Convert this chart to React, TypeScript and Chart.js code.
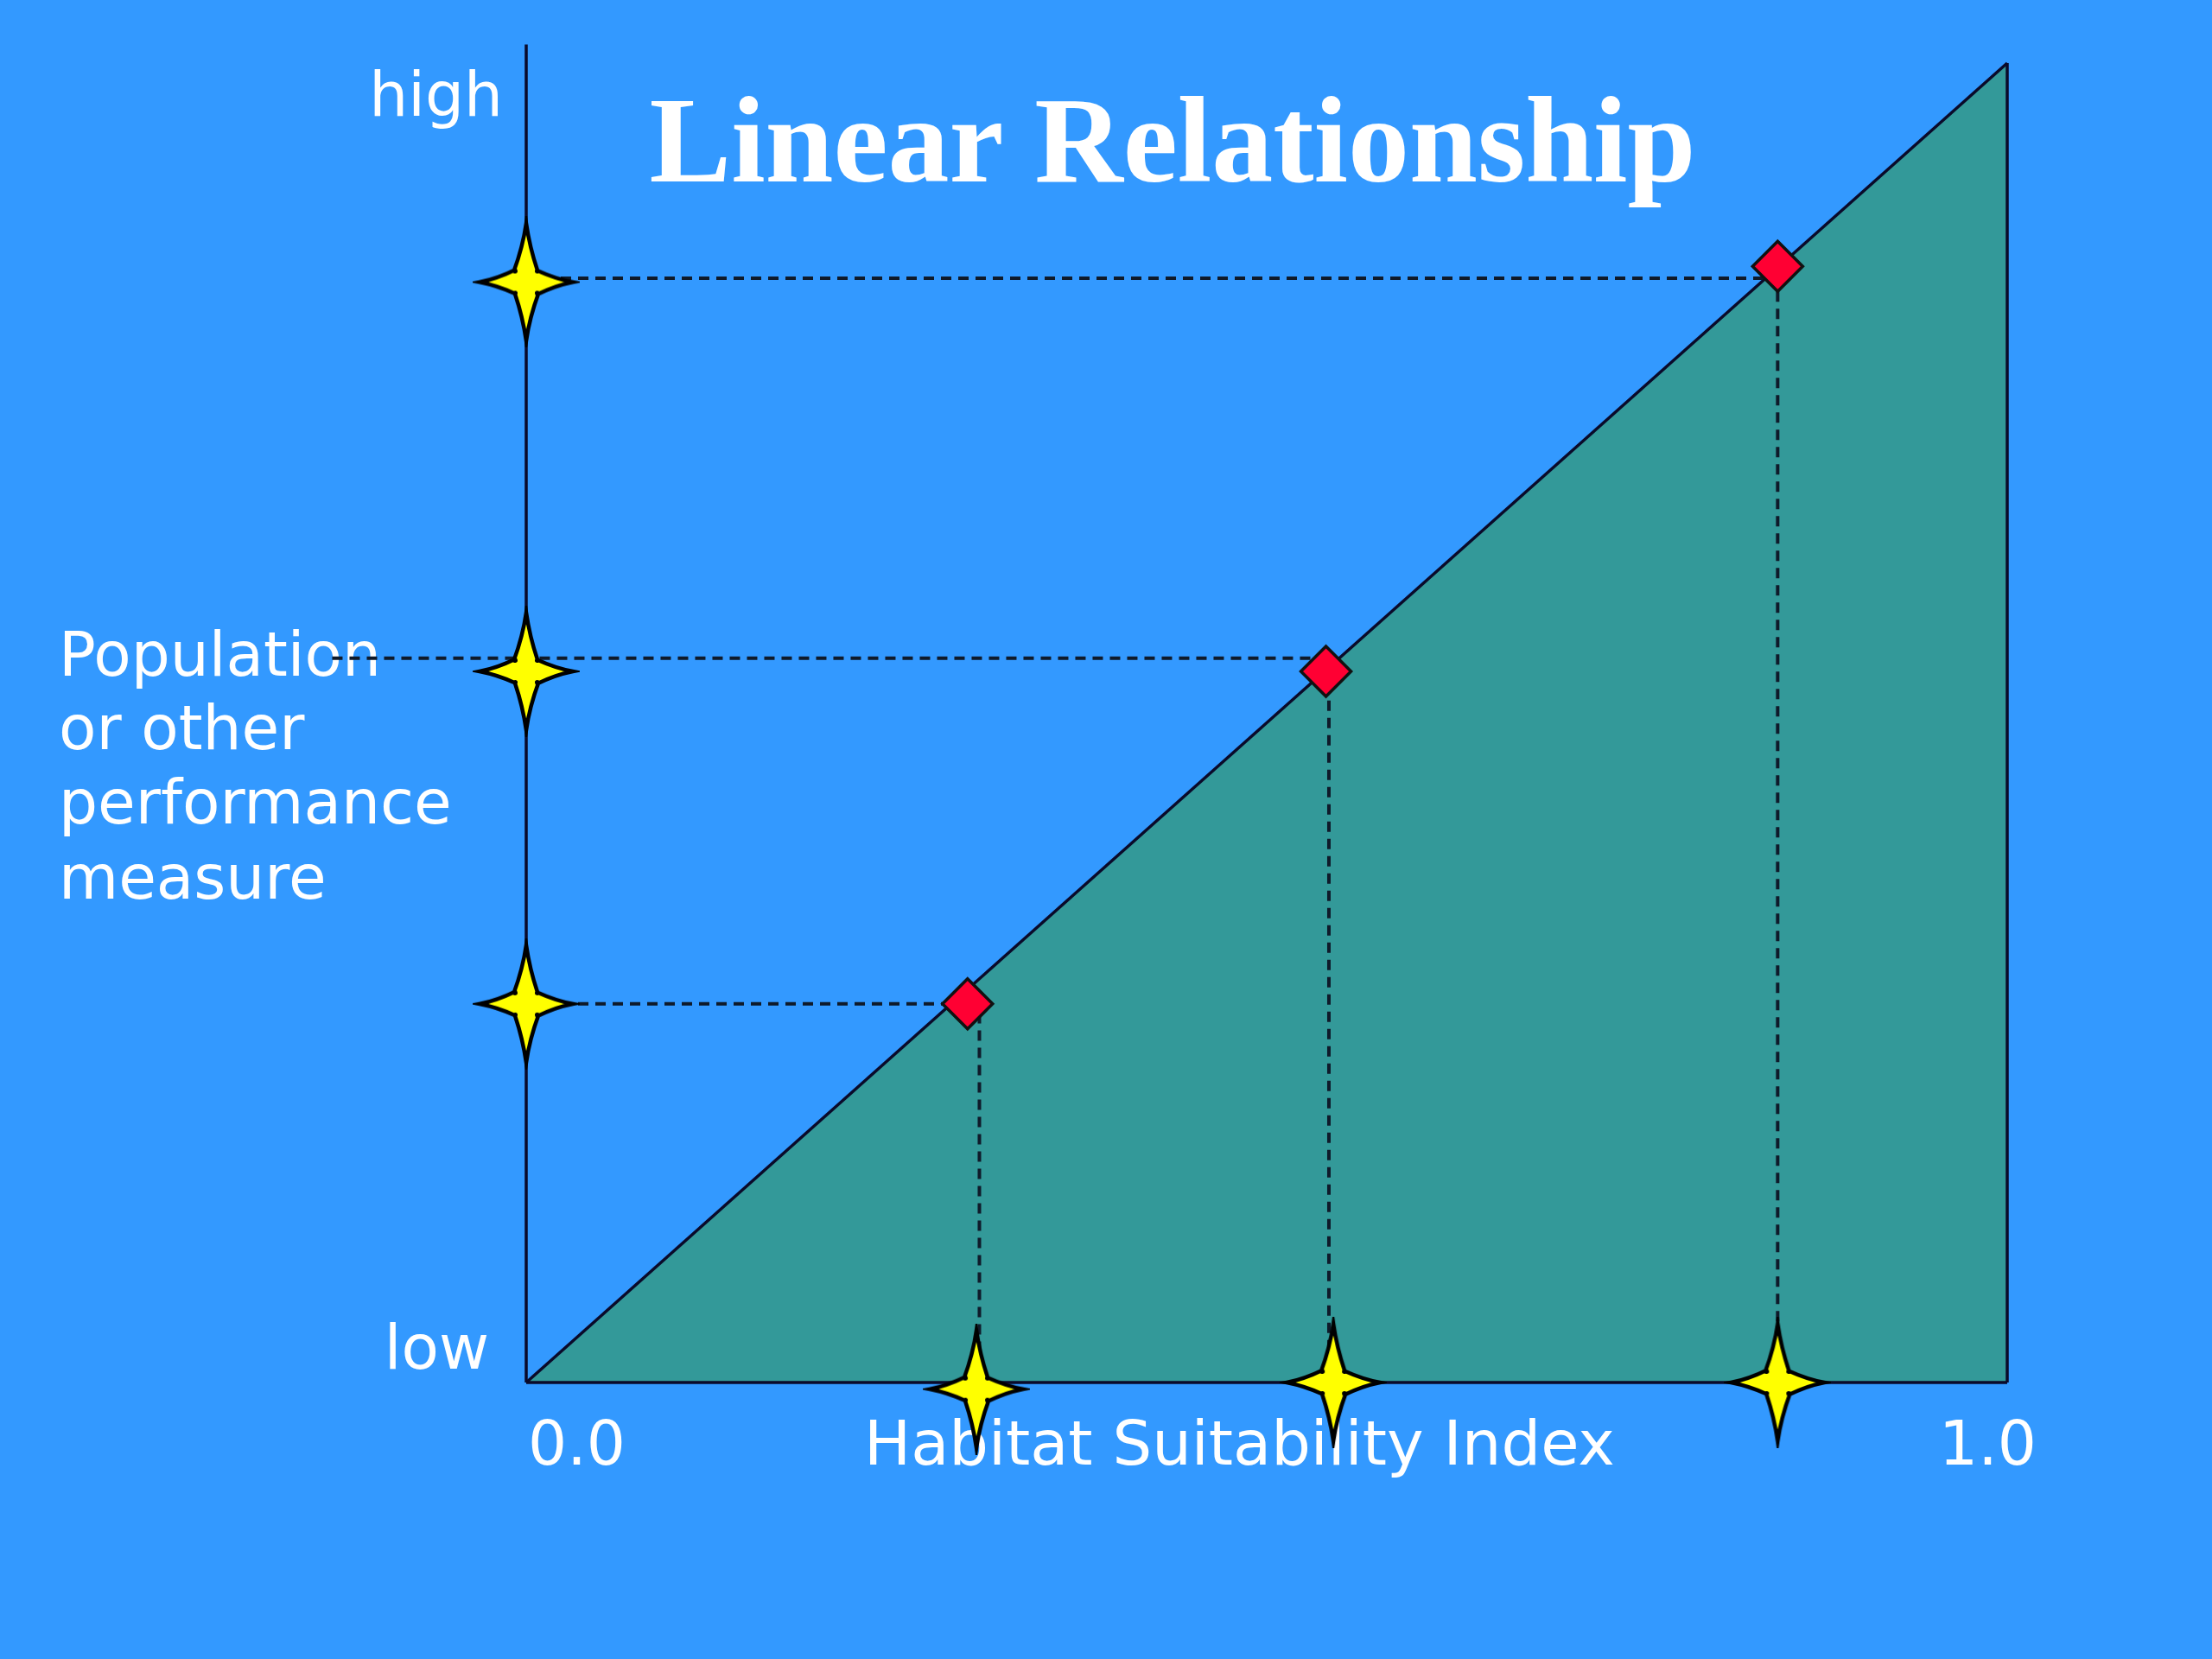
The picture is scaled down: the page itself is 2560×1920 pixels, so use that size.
import React, { useEffect, useRef } from "react";
import { Chart, registerables } from "chart.js";

Chart.register(...registerables);

// ---- values (x: Habitat Suitability Index 0..1, y: performance low..high as 0..1)
const RELATION_X = [0, 1];
const RELATION_Y = [0, 1];
const Y_AXIS_TOP = 1.014;
const DIAMOND_X = [0.298, 0.54, 0.845];
const DIAMOND_Y = [0.287, 0.539, 0.846];
const H_GUIDE_Y = [0.287, 0.549, 0.837];
const H_GUIDE_START = [0, -0.131, 0];
const H_GUIDE_END = [0.29, 0.53, 0.835];
const V_GUIDE_X = [0.306, 0.542, 0.845];
const V_GUIDE_TOP = [0.28, 0.53, 0.84];
const Y_STAR_Y = [0.287, 0.539, 0.834];
const X_STAR_X = [0.304, 0.545, 0.845];
const X_STAR_Y = [-0.005, 0, 0];

const TITLE = "Linear Relationship";
const Y_HIGH = "high";
const Y_LOW = "low";
const X_MIN_LABEL = "0.0";
const X_MAX_LABEL = "1.0";
const X_TITLE = "Habitat Suitability Index";
const Y_TITLE = ["Population", "or other", "performance", "measure"];

// ---- styles
const BG = "#3399FF";
const TEAL = "#339999";
const LINE = "#0a0a2a";
const DASH = "#0f1a2a";
const RED = "#FF0033";
const YELLOW = "#FFFF00";
const SANS = '"DejaVu Sans", Verdana, sans-serif';

function makeStar(): HTMLCanvasElement {
  const w = 54;
  const h = 68;
  const r = 13;
  const pull = 2.5;
  const pad = 8;
  const cv = document.createElement("canvas");
  cv.width = 2 * w + 2 * pad;
  cv.height = 2 * h + 2 * pad;
  const ctx = cv.getContext("2d")!;
  const cx = cv.width / 2;
  const cy = cv.height / 2;
  const tips: [number, number][] = [
    [0, -h],
    [w, 0],
    [0, h],
    [-w, 0],
  ];
  ctx.beginPath();
  ctx.moveTo(cx + tips[0][0], cy + tips[0][1]);
  for (let i = 0; i < 4; i++) {
    const a = tips[i];
    const b = tips[(i + 1) % 4];
    const sx = Math.sign(a[0] + b[0]);
    const sy = Math.sign(a[1] + b[1]);
    const ix = sx * r;
    const iy = sy * r;
    const m1x = (a[0] + ix) / 2;
    const m1y = (a[1] + iy) / 2;
    const c1 = a[0] === 0 ? [m1x - sx * pull, m1y] : [m1x, m1y - sy * pull];
    const m2x = (b[0] + ix) / 2;
    const m2y = (b[1] + iy) / 2;
    const c2 = b[0] === 0 ? [m2x - sx * pull, m2y] : [m2x, m2y - sy * pull];
    // smooth the inner corner slightly with a small cubic through it
    ctx.quadraticCurveTo(cx + c1[0], cy + c1[1], cx + ix * 1.1 - sx * 1.5, cy + iy * 1.1 + (sy < 0 ? 2 : -2) * 0 - sy * 0);
    ctx.quadraticCurveTo(cx + ix * 0.85, cy + iy * 0.85, cx + ix * 1.1 - 0, cy + iy * 1.1 - sy * 1.5);
    ctx.quadraticCurveTo(cx + c2[0], cy + c2[1], cx + b[0], cy + b[1]);
  }
  ctx.closePath();
  ctx.fillStyle = YELLOW;
  ctx.fill();
  ctx.lineWidth = 4.5;
  ctx.lineJoin = "miter";
  ctx.miterLimit = 20;
  ctx.strokeStyle = "#000";
  ctx.stroke();
  return cv;
}

const textPlugin = {
  id: "slideText",
  beforeDraw(chart: any) {
    const ctx = chart.ctx;
    ctx.save();
    ctx.fillStyle = BG;
    ctx.fillRect(0, 0, chart.width, chart.height);
    ctx.restore();
  },
  beforeDatasetsDraw(chart: any) {
    const ctx = chart.ctx;
    const a = chart.chartArea;
    ctx.save();
    ctx.fillStyle = "#ffffff";
    ctx.textBaseline = "alphabetic";

    ctx.font = `bold 142px "Liberation Serif", "Times New Roman", serif`;
    ctx.textAlign = "center";
    ctx.fillText(TITLE, 1357, 210);

    ctx.font = `71px ${SANS}`;
    ctx.textAlign = "right";
    ctx.fillText(Y_HIGH, a.left - 27, 134);
    ctx.fillText(Y_LOW, a.left - 43, 1584);

    ctx.textAlign = "left";
    ctx.fillText(X_MIN_LABEL, a.left + 2, 1695);
    ctx.textAlign = "right";
    ctx.fillText(X_MAX_LABEL, 2357, 1695);

    ctx.textAlign = "left";
    const baselines = [782, 867, 953, 1040];
    Y_TITLE.forEach((t, i) => ctx.fillText(t, 68, baselines[i]));

    ctx.font = `72px ${SANS}`;
    ctx.fillText(X_TITLE, 1000, 1695);
    ctx.restore();
  },
};

export default function App() {
  const ref = useRef<HTMLCanvasElement | null>(null);

  useEffect(() => {
    if (!ref.current) return;
    const star = makeStar();

    const lineDs = (data: any[], extra: any = {}) => ({
      type: "scatter",
      data,
      showLine: true,
      pointRadius: 0,
      borderColor: LINE,
      borderWidth: 3.5,
      borderCapStyle: "butt",
      fill: false,
      clip: false,
      tension: 0,
      ...extra,
    });

    const datasets: any[] = [];
    datasets.push({
      label: "y stars",
      data: Y_STAR_Y.map((y) => ({ x: 0, y })),
      pointStyle: star,
      pointRadius: 20,
      showLine: false,
      clip: false,
    });
    datasets.push({
      label: "x stars",
      data: X_STAR_X.map((x, i) => ({ x, y: X_STAR_Y[i] })),
      pointStyle: star,
      pointRadius: 20,
      showLine: false,
      clip: false,
    });
    datasets.push({
      label: "points",
      data: DIAMOND_X.map((x, i) => ({ x, y: DIAMOND_Y[i] })),
      pointStyle: "rectRot",
      pointRadius: 29,
      backgroundColor: RED,
      borderColor: "#111",
      borderWidth: 3.5,
      showLine: false,
      clip: false,
    });
    H_GUIDE_Y.forEach((y, i) => {
      datasets.push(
        lineDs(
          [
            { x: H_GUIDE_START[i], y },
            { x: H_GUIDE_END[i], y },
          ],
          { borderDash: [12, 8], borderColor: DASH, borderWidth: 4 }
        )
      );
    });
    V_GUIDE_X.forEach((x, i) => {
      datasets.push(
        lineDs(
          [
            { x, y: V_GUIDE_TOP[i] },
            { x, y: 0 },
          ],
          { borderDash: [12, 8], borderColor: DASH, borderWidth: 4 }
        )
      );
    });
    datasets.push(
      lineDs([
        { x: 0, y: 0 },
        { x: 0, y: Y_AXIS_TOP },
      ])
    );
    datasets.push(
      lineDs([
        { x: RELATION_X[0], y: 0 },
        { x: RELATION_X[1], y: 0 },
      ])
    );
    datasets.push(
      lineDs([
        { x: RELATION_X[1], y: 0 },
        { x: RELATION_X[1], y: RELATION_Y[1] },
      ])
    );
    datasets.push(
      lineDs(
        RELATION_X.map((x, i) => ({ x, y: RELATION_Y[i] })),
        { fill: "origin", backgroundColor: TEAL }
      )
    );
    datasets.forEach((d, i) => (d.order = i));

    const chart = new Chart(ref.current, {
      type: "scatter",
      data: { datasets },
      options: {
        responsive: false,
        animation: false,
        devicePixelRatio: 1,
        events: [],
        layout: { padding: { left: 609, right: 237, top: 73, bottom: 320 } },
        scales: {
          x: { type: "linear", min: 0, max: 1, display: false },
          y: { type: "linear", min: 0, max: 1, display: false },
        },
        plugins: {
          legend: { display: false },
          tooltip: { enabled: false },
          title: { display: false },
        },
      } as any,
      plugins: [textPlugin],
    } as any);

    return () => chart.destroy();
  }, []);

  return (
    <div style={{ position: "absolute", left: 0, top: 0, width: 2560, height: 1920 }}>
      <canvas ref={ref} width={2560} height={1920} style={{ display: "block" }} />
    </div>
  );
}
